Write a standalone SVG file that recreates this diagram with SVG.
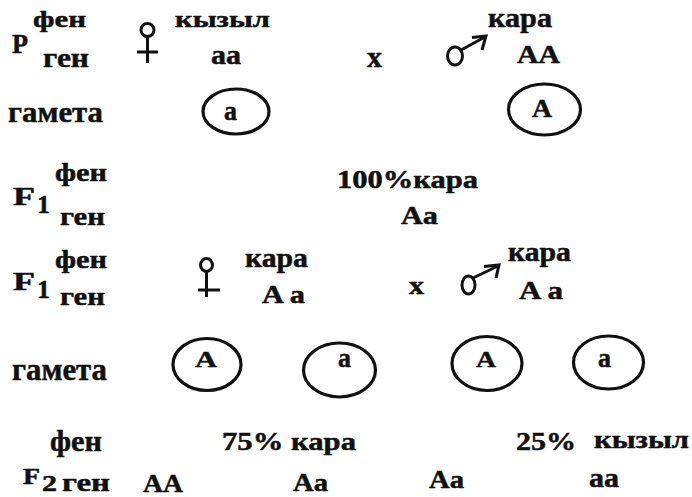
<svg xmlns="http://www.w3.org/2000/svg" width="692" height="497" viewBox="0 0 692 497">
<style>
text{font-family:"Liberation Serif","DejaVu Serif",serif;font-weight:bold;fill:#111;stroke:#111;stroke-width:0.5}
.s{fill:none;stroke:#111;stroke-width:3}
.g{fill:none;stroke:#111;stroke-width:3.2}
</style>
<rect width="692" height="497" fill="#fff"/>
<g id="row-p">
<text x="33" y="27" font-size="24" textLength="53" lengthAdjust="spacingAndGlyphs">фен</text>
<text x="12" y="53" font-size="28" textLength="16" lengthAdjust="spacingAndGlyphs">P</text>
<text x="43" y="67" font-size="27" textLength="46" lengthAdjust="spacingAndGlyphs">ген</text>
<g id="female-1" class="s"><circle cx="147.5" cy="30" r="6.5"/><line x1="147.5" y1="36.5" x2="147.5" y2="63"/><line x1="137" y1="52" x2="158" y2="52"/></g>
<text x="175" y="27" font-size="24" textLength="95" lengthAdjust="spacingAndGlyphs">кызыл</text>
<text x="211" y="64" font-size="27" textLength="30" lengthAdjust="spacingAndGlyphs">аа</text>
<text x="367" y="67" font-size="30" textLength="15" lengthAdjust="spacingAndGlyphs">x</text>
<g id="male-1" class="s"><ellipse cx="455" cy="56" rx="7.5" ry="9"/><line x1="461" y1="50" x2="485" y2="37"/><polyline points="472,37.5 486,36 482,50"/></g>
<text x="488" y="27" font-size="27" textLength="64" lengthAdjust="spacingAndGlyphs">кара</text>
<text x="517" y="63" font-size="25" textLength="43" lengthAdjust="spacingAndGlyphs">AA</text>
</g>
<g id="row-p-gametes">
<text x="8" y="122" font-size="29" textLength="95" lengthAdjust="spacingAndGlyphs">гамета</text>
<g id="gamete-p-a"><ellipse class="g" cx="236" cy="111.5" rx="33" ry="22.5"/><text x="224" y="120" font-size="28" textLength="13" lengthAdjust="spacingAndGlyphs">a</text></g>
<g id="gamete-p-A"><ellipse class="g" cx="544.5" cy="109.5" rx="36" ry="25.5"/><text x="532" y="117" font-size="26" textLength="20" lengthAdjust="spacingAndGlyphs">A</text></g>
</g>
<g id="row-f1">
<text x="55" y="181" font-size="25" textLength="52" lengthAdjust="spacingAndGlyphs">фен</text>
<text x="13" y="205" font-size="26" textLength="22" lengthAdjust="spacingAndGlyphs">F</text>
<text x="37" y="213" font-size="25" textLength="13" lengthAdjust="spacingAndGlyphs">1</text>
<text x="60" y="225" font-size="26" textLength="45" lengthAdjust="spacingAndGlyphs">ген</text>
<text x="337" y="188" font-size="25" textLength="141" lengthAdjust="spacingAndGlyphs">100%кара</text>
<text x="401" y="224" font-size="25" textLength="37" lengthAdjust="spacingAndGlyphs">Aa</text>
</g>
<g id="row-f1-cross">
<text x="55" y="268" font-size="25" textLength="52" lengthAdjust="spacingAndGlyphs">фен</text>
<text x="13" y="290" font-size="26" textLength="22" lengthAdjust="spacingAndGlyphs">F</text>
<text x="37" y="298" font-size="25" textLength="13" lengthAdjust="spacingAndGlyphs">1</text>
<text x="60" y="305" font-size="26" textLength="45" lengthAdjust="spacingAndGlyphs">ген</text>
<g id="female-2" class="s"><ellipse cx="206.5" cy="265" rx="6" ry="6.5"/><line x1="206.5" y1="271.5" x2="206.5" y2="297"/><line x1="198" y1="290" x2="220" y2="290"/></g>
<text x="245" y="267" font-size="27" textLength="63" lengthAdjust="spacingAndGlyphs">кара</text>
<text x="262" y="303" font-size="25" textLength="43" lengthAdjust="spacingAndGlyphs">A a</text>
<text x="409" y="294" font-size="26" textLength="15" lengthAdjust="spacingAndGlyphs">x</text>
<g id="male-2" class="s"><ellipse cx="468.5" cy="285" rx="6.5" ry="9"/><line x1="473" y1="278" x2="498" y2="266"/><polyline points="484,266.5 499,265 496,278"/></g>
<text x="508" y="261" font-size="27" textLength="63" lengthAdjust="spacingAndGlyphs">кара</text>
<text x="519" y="299" font-size="25" textLength="44" lengthAdjust="spacingAndGlyphs">A a</text>
</g>
<g id="row-f1-gametes">
<text x="12" y="380" font-size="31" textLength="95" lengthAdjust="spacingAndGlyphs">гамета</text>
<g id="gamete-f1-A1"><ellipse class="g" cx="207" cy="364.5" rx="34" ry="26"/><text x="195" y="367" font-size="24" textLength="22" lengthAdjust="spacingAndGlyphs">A</text></g>
<g id="gamete-f1-a1"><ellipse class="g" cx="339.5" cy="370" rx="36" ry="27"/><text x="338" y="367" font-size="28" textLength="13" lengthAdjust="spacingAndGlyphs">a</text></g>
<g id="gamete-f1-A2"><ellipse class="g" cx="487" cy="363.5" rx="35" ry="27"/><text x="476" y="367" font-size="24" textLength="20" lengthAdjust="spacingAndGlyphs">A</text></g>
<g id="gamete-f1-a2"><ellipse class="g" cx="608.5" cy="362.5" rx="35" ry="26.5"/><text x="598" y="367" font-size="28" textLength="13" lengthAdjust="spacingAndGlyphs">a</text></g>
</g>
<g id="row-f2">
<text x="50" y="451" font-size="29" textLength="52" lengthAdjust="spacingAndGlyphs">фен</text>
<text x="222" y="450" font-size="26" textLength="134" lengthAdjust="spacingAndGlyphs">75% кара</text>
<text x="516" y="450" font-size="26" textLength="60" lengthAdjust="spacingAndGlyphs">25%</text>
<text x="594" y="448" font-size="26" textLength="95" lengthAdjust="spacingAndGlyphs">кызыл</text>
<text x="23" y="484" font-size="24" textLength="17" lengthAdjust="spacingAndGlyphs">F</text>
<text x="42" y="491" font-size="23" textLength="15" lengthAdjust="spacingAndGlyphs">2</text>
<text x="62" y="491" font-size="26" textLength="48" lengthAdjust="spacingAndGlyphs">ген</text>
<text x="143" y="492" font-size="25" textLength="40" lengthAdjust="spacingAndGlyphs">AA</text>
<text x="293" y="491" font-size="25" textLength="35" lengthAdjust="spacingAndGlyphs">Aa</text>
<text x="429" y="488" font-size="25" textLength="35" lengthAdjust="spacingAndGlyphs">Aa</text>
<text x="589" y="487" font-size="28" textLength="30" lengthAdjust="spacingAndGlyphs">aa</text>
</g>
<g id="connectors"></g>
</svg>
